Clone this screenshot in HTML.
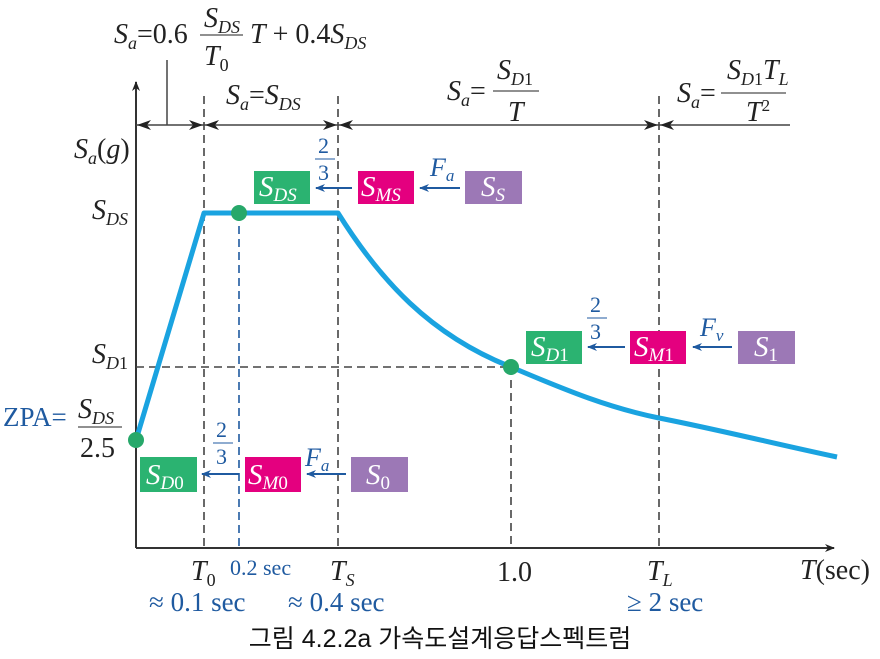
<!DOCTYPE html>
<html><head><meta charset="utf-8"><style>
html,body{margin:0;padding:0;background:#fff;}
svg{display:block;}
text{font-family:"Liberation Serif",serif;}
.it{font-style:italic;}
.b{fill:#1f5aa0;}
.w{fill:#fff;}
</style></head><body>
<svg width="880" height="659" viewBox="0 0 880 659">
<defs>
<marker id="ah" markerWidth="10" markerHeight="8" refX="9" refY="4" orient="auto" markerUnits="userSpaceOnUse"><path d="M0,0 L10,4 L0,8 L3,4 Z" fill="#222"/></marker>
<marker id="bh" markerWidth="10" markerHeight="8" refX="9" refY="4" orient="auto" markerUnits="userSpaceOnUse"><path d="M0,0 L10,4 L0,8 L3,4 Z" fill="#1f5aa0"/></marker>
</defs>
<line x1="136" y1="548" x2="136" y2="82" stroke="#333" stroke-width="2" marker-end="url(#ah)"/>
<line x1="136" y1="548" x2="834" y2="548" stroke="#333" stroke-width="2" marker-end="url(#ah)"/>
<g stroke="#444" stroke-width="1.6" stroke-dasharray="8,5">
<line x1="204" y1="96" x2="204" y2="548"/>
<line x1="338" y1="96" x2="338" y2="548"/>
<line x1="659" y1="96" x2="659" y2="548"/>
<line x1="511" y1="367" x2="511" y2="548"/>
<line x1="136" y1="367" x2="511" y2="367"/>
</g>
<line x1="239" y1="213" x2="239" y2="548" stroke="#1f5aa0" stroke-width="1.6" stroke-dasharray="8,5"/>
<g stroke="#444" stroke-width="1.5">
<line x1="136" y1="125" x2="790" y2="125"/>
<line x1="167" y1="60" x2="167" y2="125"/>
</g>
<g fill="#222">
<path d="M137,125 l14,-5 l-4,5 l4,5z"/>
<path d="M203,125 l-14,-5 l4,5 l-4,5z"/>
<path d="M205,125 l14,-5 l-4,5 l4,5z"/>
<path d="M337,125 l-14,-5 l4,5 l-4,5z"/>
<path d="M339,125 l14,-5 l-4,5 l4,5z"/>
<path d="M658,125 l-14,-5 l4,5 l-4,5z"/>
<path d="M660,125 l14,-5 l-4,5 l4,5z"/>
</g>
<path fill="none" stroke="#1aa3e0" stroke-width="5" stroke-linejoin="round" d="M136,440 L204,213 L338,213 C380,280 430,335 511,367 C570,392 610,408 659,418 C720,430 780,445 837,457"/>
<g fill="#27a86a">
<circle cx="136" cy="440" r="8"/>
<circle cx="239" cy="213" r="8"/>
<circle cx="511" cy="367" r="8"/>
</g>
<rect x="254" y="171" width="56" height="33" fill="#2bb371"/>
<rect x="358" y="171" width="56" height="33" fill="#e4007f"/>
<rect x="465" y="171" width="57" height="33" fill="#9c78b6"/>
<rect x="526" y="331" width="56" height="33" fill="#2bb371"/>
<rect x="630" y="331" width="56" height="33" fill="#e4007f"/>
<rect x="738" y="331" width="57" height="33" fill="#9c78b6"/>
<rect x="140" y="457" width="57" height="35" fill="#2bb371"/>
<rect x="245" y="457" width="56" height="35" fill="#e4007f"/>
<rect x="351" y="457" width="57" height="35" fill="#9c78b6"/>
<g font-size="29" class="w">
<text x="259" y="196" class="it">S<tspan font-size="19" dy="5">DS</tspan></text>
<text x="361" y="196" class="it">S<tspan font-size="19" dy="5">MS</tspan></text>
<text x="481" y="196" class="it">S<tspan font-size="19" dy="5">S</tspan></text>
<text x="531" y="356" class="it">S<tspan font-size="19" dy="5">D</tspan><tspan font-style="normal" font-size="19">1</tspan></text>
<text x="634" y="356" class="it">S<tspan font-size="19" dy="5">M</tspan><tspan font-style="normal" font-size="19">1</tspan></text>
<text x="754" y="356" class="it">S<tspan font-size="19" dy="5" font-style="normal">1</tspan></text>
<text x="146" y="484" class="it">S<tspan font-size="19" dy="5">D</tspan><tspan font-style="normal" font-size="19">0</tspan></text>
<text x="248" y="484" class="it">S<tspan font-size="19" dy="5">M</tspan><tspan font-style="normal" font-size="19">0</tspan></text>
<text x="366" y="484" class="it">S<tspan font-size="19" dy="5" font-style="normal">0</tspan></text>
</g>
<g stroke="#1f5aa0" stroke-width="2">
<line x1="352" y1="188" x2="316" y2="188" marker-end="url(#bh)"/>
<line x1="460" y1="188" x2="420" y2="188" marker-end="url(#bh)"/>
<line x1="625" y1="347" x2="588" y2="347" marker-end="url(#bh)"/>
<line x1="732" y1="347" x2="693" y2="347" marker-end="url(#bh)"/>
<line x1="239" y1="474" x2="202" y2="474" marker-end="url(#bh)"/>
<line x1="346" y1="474" x2="307" y2="474" marker-end="url(#bh)"/>
<line x1="315" y1="159" x2="335" y2="159" stroke-width="1"/>
<line x1="587" y1="318" x2="607" y2="318" stroke-width="1"/>
<line x1="213" y1="443" x2="233" y2="443" stroke-width="1"/>
</g>
<g class="b" font-size="22">
<text x="318" y="153">2</text><text x="318" y="180">3</text>
<text x="590" y="312">2</text><text x="590" y="339">3</text>
<text x="216" y="437">2</text><text x="216" y="464">3</text>
<text x="430" y="176" class="it" font-size="26">F<tspan font-size="17" dy="5">a</tspan></text>
<text x="700" y="336" class="it" font-size="26">F<tspan font-size="17" dy="5">v</tspan></text>
<text x="305" y="466" class="it" font-size="26">F<tspan font-size="17" dy="5">a</tspan></text>
</g>
<g fill="#222" font-size="28">
<text x="114" y="43" class="it">S<tspan font-size="18" dy="6">a</tspan><tspan dy="-6" font-style="normal">=0.6</tspan></text>
<text x="204" y="27" class="it">S<tspan font-size="18" dy="6">DS</tspan></text>
<line x1="200" y1="35" x2="243" y2="35" stroke="#222" stroke-width="1"/>
<text x="204" y="65" class="it">T<tspan font-size="18" dy="6" font-style="normal">0</tspan></text>
<text x="250" y="43" class="it">T<tspan font-style="normal"> + 0.4</tspan>S<tspan font-size="18" dy="6">DS</tspan></text>
<text x="226" y="104" class="it">S<tspan font-size="18" dy="6">a</tspan><tspan dy="-6" font-style="normal">=</tspan>S<tspan font-size="18" dy="6">DS</tspan></text>
<text x="447" y="100" class="it">S<tspan font-size="18" dy="6">a</tspan><tspan dy="-6" font-style="normal">=</tspan></text>
<text x="497" y="79" class="it">S<tspan font-size="18" dy="6">D</tspan><tspan font-size="18" font-style="normal">1</tspan></text>
<line x1="493" y1="91" x2="539" y2="91" stroke="#222" stroke-width="1"/>
<text x="508" y="121" class="it">T</text>
<text x="677" y="102" class="it">S<tspan font-size="18" dy="6">a</tspan><tspan dy="-6" font-style="normal">=</tspan></text>
<text x="727" y="79" class="it">S<tspan font-size="18" dy="6">D</tspan><tspan font-size="18" font-style="normal">1</tspan><tspan dy="-6">T</tspan><tspan font-size="18" dy="6">L</tspan></text>
<line x1="721" y1="93" x2="786" y2="93" stroke="#222" stroke-width="1"/>
<text x="746" y="121" class="it">T<tspan font-size="17" dy="-10" font-style="normal">2</tspan></text>
<text x="74" y="158" class="it">S<tspan font-size="18" dy="6">a</tspan><tspan dy="-6" font-style="normal">(</tspan>g<tspan font-style="normal">)</tspan></text>
<text x="92" y="219" class="it">S<tspan font-size="18" dy="6">DS</tspan></text>
<text x="92" y="363" class="it">S<tspan font-size="18" dy="6">D</tspan><tspan font-size="18" font-style="normal">1</tspan></text>
<text x="78" y="418" class="it">S<tspan font-size="18" dy="6">DS</tspan></text>
<line x1="78" y1="427" x2="122" y2="427" stroke="#222" stroke-width="1"/>
<text x="80" y="457">2.5</text>
<text x="191" y="580" class="it">T<tspan font-size="18" dy="6" font-style="normal">0</tspan></text>
<text x="330" y="580" class="it">T<tspan font-size="18" dy="6">S</tspan></text>
<text x="497" y="581">1.0</text>
<text x="647" y="580" class="it">T<tspan font-size="18" dy="6">L</tspan></text>
<text x="800" y="579"><tspan font-style="italic">T</tspan>(sec)</text>
</g>
<g class="b" font-size="27">
<text x="3" y="426">ZPA=</text>
<text x="230" y="575" font-size="22">0.2 sec</text>
<text x="149" y="611">≈ 0.1 sec</text>
<text x="288" y="611">≈ 0.4 sec</text>
<text x="627" y="611">≥ 2 sec</text>
</g>
<text x="440" y="647" text-anchor="middle" font-size="25" style="font-family:'Liberation Sans','Noto Sans CJK KR',sans-serif" fill="#111">그림 4.2.2a 가속도설계응답스펙트럼</text>
</svg>
</body></html>
